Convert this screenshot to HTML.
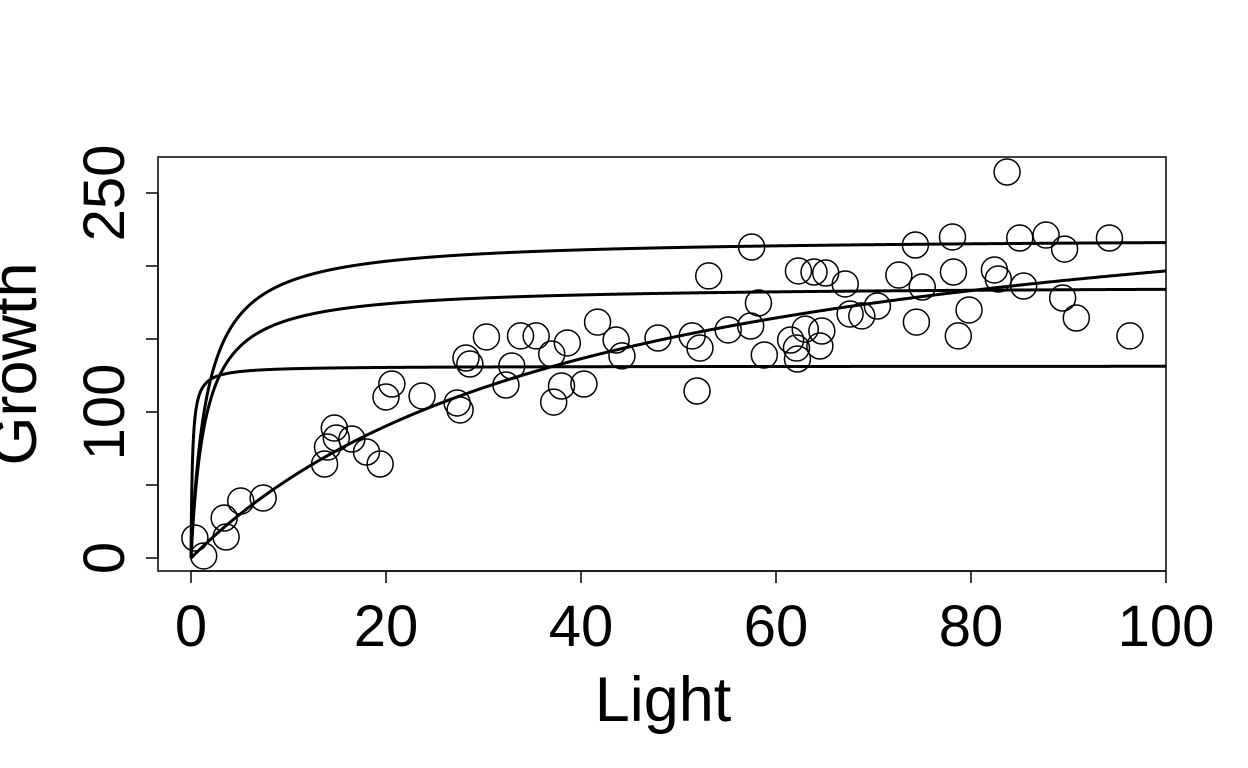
<!DOCTYPE html>
<html><head><meta charset="utf-8"><style>
html,body{margin:0;padding:0;background:#fff;width:1248px;height:768px;overflow:hidden}
svg text{font-family:"Liberation Sans",Arial,sans-serif;fill:#000}
</style></head><body>
<svg id="chart" width="1248" height="768" xmlns="http://www.w3.org/2000/svg">
<rect x="158" y="157" width="1008" height="414" fill="none" stroke="#000" stroke-width="1.5"/>
<g id="axes"></g><g id="curves"></g><g id="points"></g>
<text x="663" y="721" font-size="63" text-anchor="middle">Light</text>
<text transform="translate(36,364) rotate(-90)" font-size="63" text-anchor="middle">Growth</text>
</svg>
<script>
const lightValues=[0.4,1.3,3.4,3.6,5.1,7.4,13.7,14.0,14.7,14.9,16.5,18.0,19.4,20.0,20.6,23.7,27.3,27.6,28.2,28.6,30.3,32.3,32.9,33.8,35.4,37.0,37.2,38.0,38.6,40.3,41.7,43.6,44.2,47.9,51.4,51.9,52.2,53.1,55.1,57.4,57.5,58.2,58.8,61.5,62.1,62.2,62.3,63.0,63.9,64.5,64.7,65.1,67.1,67.6,68.8,70.4,72.6,74.3,74.4,75.0,78.1,78.2,78.7,79.8,82.4,82.8,83.7,85.0,85.4,87.7,89.4,89.6,90.8,94.2,96.3];
const growthValues=[13.7,1.4,27.4,14.4,39.0,41.1,64.4,76.0,89.0,82.2,81.5,72.6,64.4,110.3,119.2,111.0,106.2,101.4,137.0,132.9,151.4,118.5,131.5,152.1,152.1,139.7,106.8,117.8,147.3,119.2,161.6,149.3,138.4,150.7,152.1,114.4,143.8,193.2,156.2,158.9,213.0,174.7,139.0,149.3,143.8,136.3,196.6,156.8,195.9,145.2,155.5,195.2,187.7,167.1,165.8,172.6,193.8,214.4,161.6,185.6,219.9,195.9,152.1,169.9,197.3,191.1,264.4,219.2,186.3,221.2,178.1,211.6,164.4,219.2,152.1];
const curveVmax=[131.5,186.7,219.5,278.4];
const curveK=[0.15,1.45,1.6,41.6];
const xTicks=[0,20,40,60,80,100];
const yTicks=[0,50,100,150,200,250];
const yTickLabels=["0","","100","","","250"];
const NS="http://www.w3.org/2000/svg";
const sx=v=>191+v*9.75, sy=v=>558-v*1.46;
function mk(tag,attrs,parent){const e=document.createElementNS(NS,tag);for(const k in attrs)e.setAttribute(k,attrs[k]);parent.appendChild(e);return e;}
const ax=document.getElementById('axes');
const xl=mk('line',{x1:sx(0),x2:sx(100),y1:571,y2:571,stroke:'#000','stroke-width':1.5},ax);


xTicks.forEach(t=>{
 const l=mk('line',{x1:sx(t),x2:sx(t),y1:571,y2:583,stroke:'#000','stroke-width':1.5},ax);
 
 
 const tx=mk('text',{x:sx(t),y:646,'font-size':58,'text-anchor':'middle'},ax);tx.textContent=t;
 
 
});
const yl=mk('line',{x1:158,x2:158,y1:sy(0),y2:sy(250),stroke:'#000','stroke-width':1.5},ax);


yTicks.forEach((t,i)=>{
 const l=mk('line',{x1:146,x2:158,y1:sy(t),y2:sy(t),stroke:'#000','stroke-width':1.5},ax);
 
 
 if(yTickLabels[i]){
  const tx=mk('text',{transform:`translate(124,${sy(t)}) rotate(-90)`,'font-size':58,'text-anchor':'middle'},ax);tx.textContent=yTickLabels[i];
  
  
 }
});
const cg=document.getElementById('curves');
curveVmax.forEach((a,i)=>{
 const b=curveK[i];let d='';
 for(let j=0;j<=2000;j++){const x=100*Math.pow(j/2000,2.5);const y=a*x/(b+x);d+=(j?'L':'M')+sx(x).toFixed(2)+','+sy(y).toFixed(2);}
 const p=mk('path',{d:d,fill:'none',stroke:'#000','stroke-width':3},cg);
 
 
});
const pg=document.getElementById('points');
lightValues.forEach((x,i)=>{
 const c=mk('circle',{cx:sx(x),cy:sy(growthValues[i]),r:13,fill:'none',stroke:'#000','stroke-width':1.5},pg);
 
 
});
</script>
</body></html>
